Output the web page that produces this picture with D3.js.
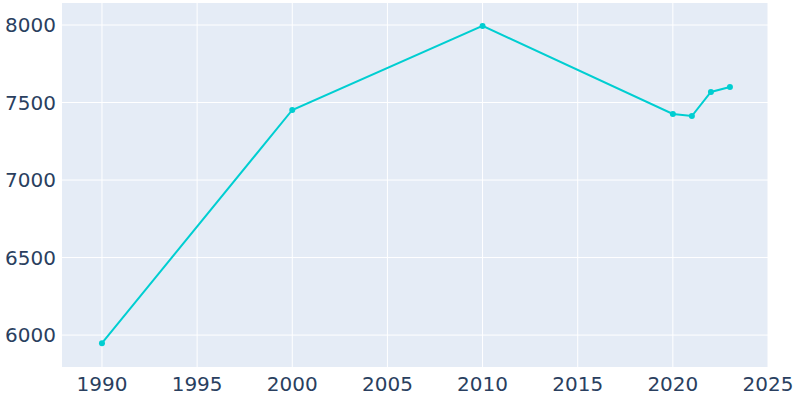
<!DOCTYPE html>
<html><head><meta charset="utf-8">
<script src="https://cdn.jsdelivr.net/npm/d3@7"></script>
<style>body{margin:0;background:#fff}</style>
</head><body>
<svg id="chart" width="800" height="400"></svg>
<script>
var years = [1990, 2000, 2010, 2020, 2021, 2022, 2023];
var population = [5948, 7452, 7994, 7426, 7413, 7568, 7600];
var xTicks = [1990, 1995, 2000, 2005, 2010, 2015, 2020, 2025];
var yTicks = [6000, 6500, 7000, 7500, 8000];

var data = years.map(function(y, i) { return {year: y, value: population[i]}; });

// plot area edges ("top" is taken by window.top, so use other names)
var plotL = 62, plotR = 768, plotT = 3, plotB = 367;
var svg = d3.select("#chart");

var x = d3.scaleLinear().domain([1987.9, 2025]).range([plotL, plotR]);
var y = d3.scaleLinear().domain([5794, 8142]).range([plotB, plotT]);

svg.append("rect").attr("x", plotL).attr("y", plotT)
  .attr("width", plotR - plotL).attr("height", plotB - plotT).attr("fill", "#e5ecf6");

svg.selectAll(".gx").data(xTicks).enter().append("line")
  .attr("x1", function(d) { return x(d); }).attr("x2", function(d) { return x(d); })
  .attr("y1", plotT).attr("y2", plotB).attr("stroke", "#fff").attr("stroke-width", 1);
svg.selectAll(".gy").data(yTicks).enter().append("line")
  .attr("x1", plotL).attr("x2", plotR)
  .attr("y1", function(d) { return y(d); }).attr("y2", function(d) { return y(d); })
  .attr("stroke", "#fff").attr("stroke-width", 1);

svg.selectAll(".tx").data(xTicks).enter().append("text")
  .attr("x", function(d) { return x(d); }).attr("y", 391)
  .attr("text-anchor", "middle").attr("font-family", "DejaVu Sans, sans-serif")
  .attr("font-size", 20).attr("fill", "#2a3f5f").text(function(d) { return d; });
svg.selectAll(".ty").data(yTicks).enter().append("text")
  .attr("x", 56).attr("y", function(d) { return y(d) + 7; })
  .attr("text-anchor", "end").attr("font-family", "DejaVu Sans, sans-serif")
  .attr("font-size", 20).attr("fill", "#2a3f5f").text(function(d) { return d; });

var line = d3.line().x(function(d) { return x(d.year); }).y(function(d) { return y(d.value); });
svg.append("path").datum(data).attr("d", line)
  .attr("fill", "none").attr("stroke", "#00ced1").attr("stroke-width", 2);
svg.selectAll(".pt").data(data).enter().append("circle")
  .attr("cx", function(d) { return x(d.year); }).attr("cy", function(d) { return y(d.value); })
  .attr("r", 3).attr("fill", "#00ced1");
</script>
</body></html>
